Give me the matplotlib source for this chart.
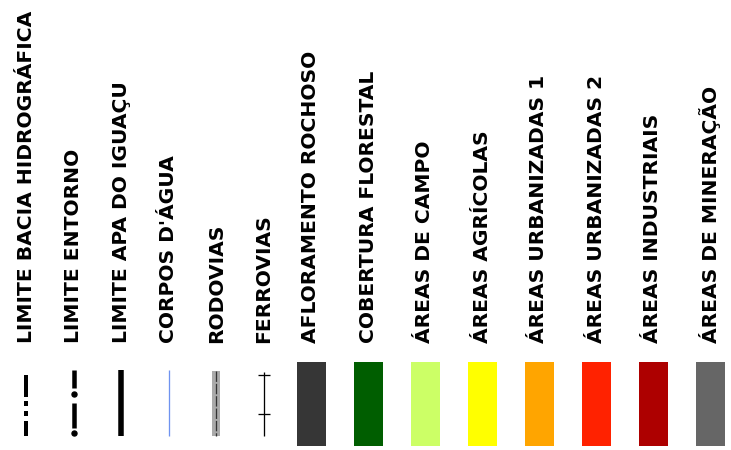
import matplotlib.pyplot as plt

# legend entries
line_labels = ["LIMITE BACIA HIDROGRÁFICA", "LIMITE ENTORNO", "LIMITE APA DO IGUAÇU",
               "CORPOS D'ÁGUA", "RODOVIAS", "FERROVIAS"]
area_labels = ["AFLORAMENTO ROCHOSO", "COBERTURA FLORESTAL", "ÁREAS DE CAMPO",
               "ÁREAS AGRÍCOLAS", "ÁREAS URBANIZADAS 1", "ÁREAS URBANIZADAS 2",
               "ÁREAS INDUSTRIAIS", "ÁREAS DE MINERAÇÃO"]
area_colors = ["#363636", "#005e00", "#ccff66", "#ffff00",
               "#ffa500", "#ff2200", "#ad0000", "#666666"]

px = 72 / 100  # points per pixel at dpi 100

fig = plt.figure(figsize=(7.31, 4.5), dpi=100)
ax = fig.add_axes([0, 0, 1, 1])
ax.set_xlim(0, 731)
ax.set_ylim(450, 0)
ax.axis('off')

line_x = [26 + 47.6 * i for i in range(len(line_labels))]
area_x = [311 + 57 * i for i in range(len(area_labels))]

# labels
for x, lab in zip(line_x + area_x, line_labels + area_labels):
    ax.text(x, 343, lab, rotation=90, rotation_mode='anchor', ha='left', va='center',
            fontsize=14.6, fontweight='bold', family='DejaVu Sans', color='black')

# line symbols
x0, x1, x2, x3, x4, x5 = line_x
top, bot = 372, 436
# limite bacia: long - short - short
ax.plot([x0, x0], [375, bot], color='black', lw=4 * px, solid_capstyle='butt',
        dash_capstyle='butt', linestyle=(0, (22 / 4, 4 / 4, 5 / 4, 5 / 4, 5 / 4, 5 / 4)))
# limite entorno: dash - dot
for y0, y1 in [(370, 388), (403, 428)]:
    ax.plot([x1, x1], [y0, y1], color='black', lw=4.5 * px, solid_capstyle='butt')
ax.scatter([x1, x1], [393.5, 433], s=(5 * px) ** 2, color='black', zorder=3)
# limite APA
ax.plot([x2, x2], [370, bot], color='black', lw=5.5 * px, solid_capstyle='butt')
# corpos d'agua
ax.plot([x3, x3], [370, bot], color='#6f93f0', lw=1.3 * px, solid_capstyle='butt')
# rodovias
ax.plot([x4, x4], [371, bot], color='#aaaaaa', lw=8 * px, solid_capstyle='butt')
ax.plot([x4, x4], [371, bot], color='#333333', lw=1.3 * px, linestyle=(0, (8, 1.5)))
# ferrovias
ax.plot([x5, x5], [top, bot], color='black', lw=1.3 * px, solid_capstyle='butt')
for yc in [375, 414]:
    ax.plot([x5 - 6, x5 + 6], [yc, yc], color='black', lw=1.3 * px, solid_capstyle='butt')

# area patches
ax.bar(area_x, [84] * len(area_x), bottom=362, width=29, color=area_colors)

fig.savefig('out.png', dpi=100)
